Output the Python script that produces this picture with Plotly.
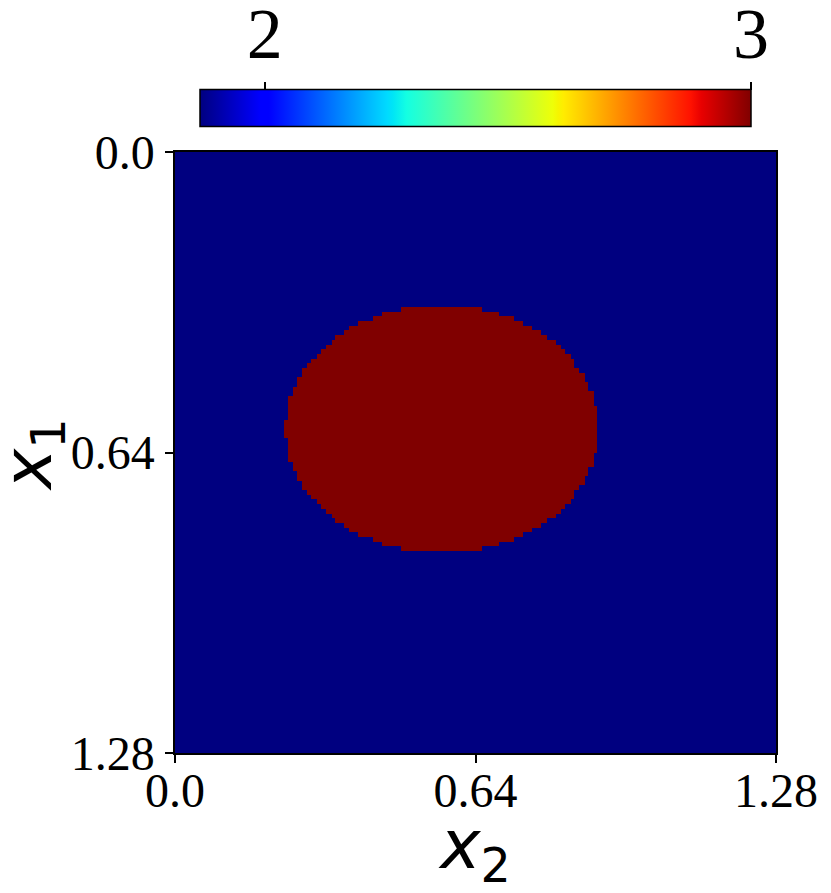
import numpy as np
import plotly.graph_objects as go

# ---- data ----
extent = 1.28            # domain length of x1 and x2
n_rows = 128             # grid rows along x1
n_cols = 1280            # fine sampling along x2
background_value = 1.867 # value outside the inclusion (colour-bar minimum)
inclusion_value = 3.0    # value inside the inclusion
first_row = 33           # first grid row containing the inclusion

# left / right edge (in x2 units) of the inclusion for rows 33..84
ellipse_left = [0.481, 0.440, 0.422, 0.390, 0.371, 0.360, 0.341, 0.334, 0.322, 0.310,
                0.303, 0.290, 0.282, 0.271, 0.271, 0.259, 0.259, 0.252, 0.252, 0.241,
                0.241, 0.241, 0.241, 0.241, 0.232, 0.232,
                0.232, 0.232, 0.241, 0.241, 0.241, 0.241, 0.241, 0.252, 0.252, 0.259,
                0.259, 0.271, 0.271, 0.282, 0.290, 0.303, 0.310, 0.322, 0.334, 0.341,
                0.360, 0.371, 0.390, 0.422, 0.440, 0.481]
ellipse_right = [0.653, 0.691, 0.722, 0.742, 0.760, 0.780, 0.792, 0.812, 0.822, 0.831,
                 0.843, 0.850, 0.850, 0.861, 0.873, 0.873, 0.880, 0.880, 0.892, 0.892,
                 0.892, 0.899, 0.899, 0.899, 0.899, 0.899,
                 0.899, 0.899, 0.899, 0.899, 0.899, 0.892, 0.892, 0.892, 0.880, 0.880,
                 0.873, 0.873, 0.861, 0.850, 0.850, 0.843, 0.831, 0.822, 0.812, 0.792,
                 0.780, 0.760, 0.742, 0.722, 0.691, 0.653]

axis_tickvals = [0.0, 0.64, 1.28]
axis_ticktext = ["0.0", "0.64", "1.28"]
cbar_tickvals = [2, 3]
cbar_ticktext = ["2", "3"]

# ---- build field ----
x_centers = (np.arange(n_cols) + 0.5) * extent / n_cols
y_centers = (np.arange(n_rows) + 0.5) * extent / n_rows
z = np.full((n_rows, n_cols), background_value)
for i, (lo, hi) in enumerate(zip(ellipse_left, ellipse_right)):
    r = first_row + i
    z[r, (x_centers >= lo) & (x_centers < hi)] = inclusion_value

jet = [[0.0, 'rgb(0,0,128)'], [0.11, 'rgb(0,0,255)'], [0.125, 'rgb(0,0,255)'],
       [0.34, 'rgb(0,219,255)'], [0.35, 'rgb(0,229,246)'], [0.375, 'rgb(20,255,226)'],
       [0.64, 'rgb(238,255,8)'], [0.65, 'rgb(246,245,0)'], [0.66, 'rgb(255,236,0)'],
       [0.89, 'rgb(255,18,0)'], [0.91, 'rgb(232,0,0)'], [1.0, 'rgb(128,0,0)']]

W, H = 831, 893
L, R, T, B = 175, 55, 40, 140
paper_h = H - T - B
plot_px = 601
main_top = plot_px / paper_h

cb_bottom_px = 128   # from top of figure
cb_top_px = 91
cb_len = 551


def py(pix):
    """pixel row (from figure top) -> paper y"""
    return (H - B - pix) / paper_h


cb_x0 = (200 - L) / plot_px
cb_x1 = (751 - L) / plot_px

fig = go.Figure()
fig.add_trace(go.Heatmap(
    x=x_centers, y=y_centers, z=z,
    colorscale=jet, zmin=background_value, zmax=inclusion_value,
    zsmooth=False, hoverinfo='skip',
    colorbar=dict(orientation='h', x=0.5, xanchor='center',
                  y=py(cb_bottom_px), yanchor='bottom', yref='paper',
                  thickness=cb_bottom_px - cb_top_px, len=cb_len, lenmode='pixels',
                  xpad=0, ypad=0, outlinewidth=1.5, outlinecolor='black',
                  showticklabels=False, ticks='')
))
# helper axis carrying the colour-bar ticks on top
fig.add_trace(go.Scatter(x=[None], y=[None], xaxis='x2', yaxis='y2',
                         showlegend=False, hoverinfo='skip'))

tickfont = dict(family='Liberation Serif', size=48, color='black')
fig.update_layout(
    width=W, height=H, margin=dict(l=L, r=R, t=T, b=B, autoexpand=False),
    paper_bgcolor='white', plot_bgcolor='white',
    xaxis=dict(range=[0, extent], domain=[0, 1], tickvals=axis_tickvals,
               ticktext=axis_ticktext, ticks='outside', ticklen=8, tickwidth=1.5,
               tickcolor='black', showline=True, linecolor='black', linewidth=1.5,
               mirror=True, showgrid=False, zeroline=False, tickfont=tickfont,
               ticklabelstandoff=-13, automargin=False,
               title=dict(text='<i>x</i><sub>2</sub>',
                          font=dict(family='DejaVu Sans', size=68, color='black'),
                          standoff=0)),
    yaxis=dict(range=[extent, 0], domain=[0, main_top], tickvals=axis_tickvals,
               ticktext=axis_ticktext, ticks='outside', ticklen=8, tickwidth=1.5,
               tickcolor='black', showline=True, linecolor='black', linewidth=1.5,
               mirror=True, showgrid=False, zeroline=False, tickfont=tickfont,
               ticklabelstandoff=1, automargin=False),
    xaxis2=dict(domain=[cb_x0, cb_x1], anchor='y2', side='top', automargin=False,
                range=[background_value, inclusion_value], tickvals=cbar_tickvals,
                ticktext=cbar_ticktext, ticks='outside', ticklen=8, tickwidth=1.5,
                tickcolor='black', showline=False, showgrid=False, zeroline=False,
                ticklabelstandoff=-5,
                tickfont=dict(family='Liberation Serif', size=72, color='black')),
    yaxis2=dict(domain=[py(cb_bottom_px), py(cb_top_px)], anchor='x2',
                visible=False, range=[0, 1], automargin=False),
    annotations=[dict(text='<i>x</i><sub>1</sub>', textangle=-90,
                      xref='paper', yref='paper', x=(32 - L) / plot_px,
                      y=py(455), xanchor='center', yanchor='middle',
                      showarrow=False,
                      font=dict(family='DejaVu Sans', size=68, color='black'))],
)

fig.write_html("out.html", config={'displayModeBar': False},
               post_script="document.body.style.margin='0';")
